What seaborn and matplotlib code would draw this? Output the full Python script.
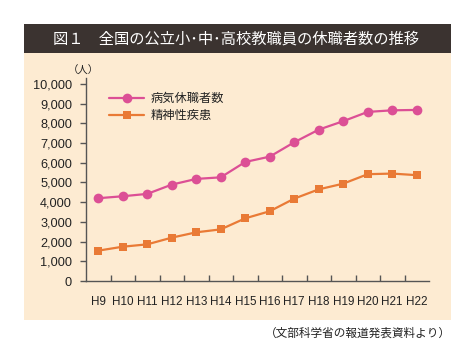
import matplotlib
matplotlib.use("Agg")
import matplotlib.pyplot as plt
import matplotlib.patches as mpatches
from matplotlib.ticker import FixedLocator, FuncFormatter
import seaborn as sns
import pandas as pd

years = ["H9", "H10", "H11", "H12", "H13", "H14", "H15", "H16", "H17", "H18", "H19", "H20", "H21", "H22"]
sick_leave = [4200, 4300, 4420, 4890, 5180, 5260, 6040, 6310, 7040, 7680, 8110, 8580, 8660, 8680]
mental = [1540, 1740, 1860, 2200, 2470, 2620, 3180, 3540, 4180, 4650, 4940, 5420, 5450, 5370]
series_names = ["病気休職者数", "精神性疾患"]
yticks = [0, 1000, 2000, 3000, 4000, 5000, 6000, 7000, 8000, 9000, 10000]
title = "図１　全国の公立小･中･高校教職員の休職者数の推移"
unit = "（人）"
source = "（文部科学省の報道発表資料より）"

sns.set_theme(style="white")
JP = ["Noto Sans CJK JP", "DejaVu Sans"]
NUM = ["Liberation Sans", "DejaVu Sans"]
plt.rcParams["font.family"] = JP

W, H = 474, 348
fig = plt.figure(figsize=(W / 100, H / 100), dpi=100)
fig.patch.set_facecolor("white")

def fx(px):
    return px / W

def fy(py):
    return 1 - py / H

# beige panel and dark title band
fig.patches.append(mpatches.Rectangle((fx(24), fy(320)), fx(451) - fx(24), fy(53) - fy(320),
                                      transform=fig.transFigure, facecolor="#fdebd2", edgecolor="none", zorder=-10))
fig.patches.append(mpatches.Rectangle((fx(24), fy(53)), fx(451) - fx(24), fy(24) - fy(53),
                                      transform=fig.transFigure, facecolor="#3b3330", edgecolor="none", zorder=-10))
fig.text(fx(236), fy(39), title, color="white", fontsize=11, ha="center", va="center", family=JP)
fig.text(fx(451), fy(333), source, color="#222222", fontsize=8.4, ha="right", va="center", family=JP)

ax_left, ax_right, ax_top, ax_bottom = 86, 429, 78, 281
ax = fig.add_axes([fx(ax_left), fy(ax_bottom), fx(ax_right) - fx(ax_left), fy(ax_top) - fy(ax_bottom)])
ax.set_facecolor("none")
ax.set_zorder(5)

df = pd.DataFrame({
    "x": list(range(len(years))) * 2,
    "value": sick_leave + mental,
    "series": [series_names[0]] * len(years) + [series_names[1]] * len(years),
})
palette = {series_names[0]: "#dc4f95", series_names[1]: "#e97a36"}
markers = {series_names[0]: "o", series_names[1]: "s"}
sizes = {series_names[0]: 7, series_names[1]: 6}
for name in series_names:
    sub = df[df["series"] == name]
    sns.lineplot(data=sub, x="x", y="value", ax=ax, color=palette[name], marker=markers[name],
                 markersize=sizes[name], markeredgewidth=0, linewidth=1.6, label=name)

ax.set_xlim(-0.5, len(years) - 0.5)
ax.set_ylim(0, 10300)
ax.set_xlabel("")
ax.set_ylabel("")

for s in ["top", "right"]:
    ax.spines[s].set_visible(False)
for s in ["left", "bottom"]:
    ax.spines[s].set_color("#555555")
    ax.spines[s].set_linewidth(1.0)

ax.set_yticks(yticks)
ax.yaxis.set_major_formatter(FuncFormatter(lambda v, p: f"{int(v):,}"))
ax.tick_params(axis="y", direction="out", length=4, width=1, color="#555555", labelsize=9.2,
               labelcolor="#222222", pad=6, left=True)
for lab in ax.get_yticklabels():
    lab.set_family(NUM)

ax.set_xticks(range(len(years)))
ax.set_xticklabels(years)
ax.tick_params(axis="x", which="major", length=0, labelsize=8.4, labelcolor="#222222", pad=11)
for lab in ax.get_xticklabels():
    lab.set_family(NUM)
ax.xaxis.set_minor_locator(FixedLocator([i + 0.5 for i in range(len(years) - 1)]))
ax.tick_params(axis="x", which="minor", direction="in", length=4, width=1, color="#555555", bottom=True)

fig.text(fx(83), fy(71), unit, fontsize=7.5, ha="center", va="center", color="#222222", family=JP)

leg = ax.legend(loc="upper left", bbox_to_anchor=(fx(111) - fx(ax_left), 1 - (87 - ax_top) / (ax_bottom - ax_top)),
                bbox_transform=ax.transAxes, frameon=False, fontsize=8.8, handlelength=2.9,
                handletextpad=0.5, labelspacing=0.35, borderaxespad=0)
for t in leg.get_texts():
    t.set_color("#222222")

fig.savefig("out.png", dpi=100, facecolor=fig.get_facecolor())
